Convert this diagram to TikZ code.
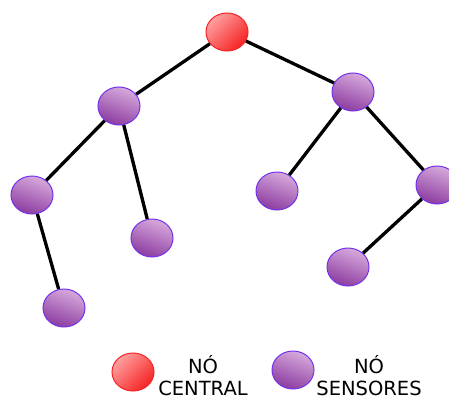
\documentclass[tikz,border=0pt]{standalone}
\usepackage{fontspec}
\setmainfont{DejaVu Sans}
\usetikzlibrary{shapes.geometric}

\definecolor{nodered}{RGB}{245,35,35}
\definecolor{lightred}{RGB}{255,160,160}
\definecolor{sensorline}{RGB}{115,50,235}
\definecolor{sensordark}{RGB}{140,60,160}
\definecolor{sensorlight}{RGB}{215,170,220}

\begin{document}
\begin{tikzpicture}[x=1pt,y=-1pt,
    central/.style={draw=nodered, line width=1pt, ellipse, minimum width=42pt, minimum height=38pt,
      inner sep=0pt, left color=lightred, right color=nodered, shading angle=45},
    sensor/.style={draw=sensorline, line width=1pt, ellipse, minimum width=42pt, minimum height=38pt,
      inner sep=0pt, left color=sensorlight, right color=sensordark, shading angle=-20},
    link/.style={black, line width=3.3pt},
    legend/.style={align=center, font=\fontsize{19.5}{22}\selectfont}]
  \useasboundingbox (0,0) rectangle (449,396);

  % tree
  \node[central] (root) at (227,32) {};
  \node[sensor] (left) at (119,106) {};
  \node[sensor] (right) at (353,92) {};
  \node[sensor] (leftA) at (32,195) {};
  \node[sensor] (leftB) at (152,238) {};
  \node[sensor] (leftAA) at (64,308) {};
  \node[sensor] (rightA) at (277,191) {};
  \node[sensor] (rightB) at (437,185) {};
  \node[sensor] (rightBA) at (348,267) {};

  \draw[link] (root) -- (left);
  \draw[link] (root) -- (right);
  \draw[link] (left) -- (leftA);
  \draw[link] (left) -- (leftB);
  \draw[link] (leftA) -- (leftAA);
  \draw[link] (right) -- (rightA);
  \draw[link] (right) -- (rightB);
  \draw[link] (rightB) -- (rightBA);

  % legend
  \node[central] (keycentral) at (133,372) {};
  \node[sensor] (keysensor) at (293,370) {};
  \node[legend, anchor=base] (textcentral) at (203,395) {NÓ\\CENTRAL};
  \node[legend, anchor=base] (textsensor) at (369,395) {NÓ\\SENSORES};
\end{tikzpicture}
\end{document}
